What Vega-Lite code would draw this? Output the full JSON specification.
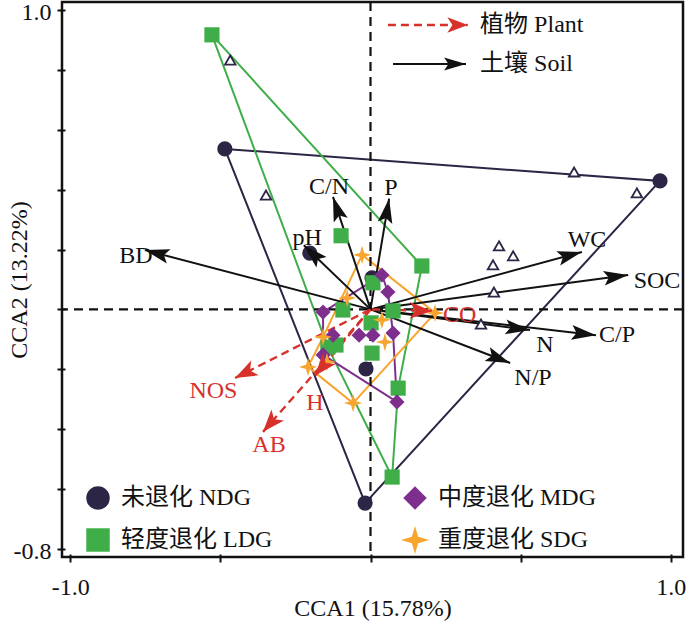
{
"$schema":"https://vega.github.io/schema/vega-lite/v6.json",
"width":621,"height":555,
"autosize":{"type":"none"},
"padding":{"left":62,"top":2,"right":4,"bottom":64},
"background":"white",
"config":{
 "view":{"stroke":"#111111","strokeWidth":2.5},
 "font":"Liberation Serif",
 "axis":{"grid":false,"domain":false,"ticks":true,"tickColor":"#111111","tickWidth":2,"tickSize":8,"offset":-3,"labelFont":"Liberation Serif","labelFontSize":24,"labelColor":"#111111","titleFont":"Liberation Serif","titleFontSize":24,"titleFontWeight":"normal","titleColor":"#111111","labelOverlap":false,"labelFlush":false}
},
"datasets":{
 "hulls":[
  {"g":"NDG","o":0,"x":-0.485,"y":0.536},{"g":"NDG","o":1,"x":0.964,"y":0.429},{"g":"NDG","o":2,"x":-0.018,"y":-0.647},{"g":"NDG","o":3,"x":-0.485,"y":0.536},
  {"g":"LDG","o":0,"x":-0.528,"y":0.917},{"g":"LDG","o":1,"x":0.171,"y":0.145},{"g":"LDG","o":2,"x":0.092,"y":-0.263},{"g":"LDG","o":3,"x":0.072,"y":-0.56},{"g":"LDG","o":4,"x":-0.142,"y":-0.126},{"g":"LDG","o":5,"x":-0.528,"y":0.917},
  {"g":"MDG","o":0,"x":-0.158,"y":-0.009},{"g":"MDG","o":1,"x":0.038,"y":0.115},{"g":"MDG","o":2,"x":0.058,"y":0.058},{"g":"MDG","o":3,"x":0.075,"y":-0.079},{"g":"MDG","o":4,"x":0.088,"y":-0.309},{"g":"MDG","o":5,"x":-0.158,"y":-0.152},{"g":"MDG","o":6,"x":-0.158,"y":-0.009},
  {"g":"SDG","o":0,"x":-0.028,"y":0.182},{"g":"SDG","o":1,"x":0.215,"y":-0.012},{"g":"SDG","o":2,"x":-0.058,"y":-0.313},{"g":"SDG","o":3,"x":-0.208,"y":-0.192},{"g":"SDG","o":4,"x":-0.158,"y":-0.092},{"g":"SDG","o":5,"x":-0.028,"y":0.182}
 ],
 "groups":[
  {"g":"未退化 NDG","x":-0.485,"y":0.536},{"g":"未退化 NDG","x":0.964,"y":0.429},{"g":"未退化 NDG","x":-0.018,"y":-0.647},{"g":"未退化 NDG","x":-0.202,"y":0.188},{"g":"未退化 NDG","x":0.005,"y":0.105},{"g":"未退化 NDG","x":-0.015,"y":-0.199},
  {"g":"轻度退化 LDG","x":-0.528,"y":0.917},{"g":"轻度退化 LDG","x":-0.098,"y":0.246},{"g":"轻度退化 LDG","x":0.171,"y":0.145},{"g":"轻度退化 LDG","x":0.008,"y":0.089},{"g":"轻度退化 LDG","x":-0.092,"y":-0.002},{"g":"轻度退化 LDG","x":0.075,"y":-0.005},{"g":"轻度退化 LDG","x":0.002,"y":-0.045},{"g":"轻度退化 LDG","x":-0.115,"y":-0.119},{"g":"轻度退化 LDG","x":-0.142,"y":-0.126},{"g":"轻度退化 LDG","x":0.005,"y":-0.146},{"g":"轻度退化 LDG","x":0.092,"y":-0.263},{"g":"轻度退化 LDG","x":0.072,"y":-0.56},
  {"g":"中度退化 MDG","x":0.038,"y":0.115},{"g":"中度退化 MDG","x":0.058,"y":0.058},{"g":"中度退化 MDG","x":-0.158,"y":-0.009},{"g":"中度退化 MDG","x":-0.125,"y":-0.086},{"g":"中度退化 MDG","x":-0.038,"y":-0.086},{"g":"中度退化 MDG","x":0.008,"y":-0.086},{"g":"中度退化 MDG","x":0.075,"y":-0.079},{"g":"中度退化 MDG","x":-0.158,"y":-0.152},{"g":"中度退化 MDG","x":0.088,"y":-0.309},
  {"g":"重度退化 SDG","x":-0.028,"y":0.182},{"g":"重度退化 SDG","x":-0.078,"y":0.038},{"g":"重度退化 SDG","x":-0.158,"y":-0.092},{"g":"重度退化 SDG","x":0.038,"y":-0.035},{"g":"重度退化 SDG","x":0.215,"y":-0.012},{"g":"重度退化 SDG","x":0.048,"y":-0.109},{"g":"重度退化 SDG","x":-0.145,"y":-0.176},{"g":"重度退化 SDG","x":-0.208,"y":-0.192},{"g":"重度退化 SDG","x":-0.058,"y":-0.313}
 ],
 "soil":[
  {"v":"BD","x":-0.751,"y":0.198,"lx":-0.781,"ly":0.178},
  {"v":"pH","x":-0.222,"y":0.214,"lx":-0.211,"ly":0.240},
  {"v":"C/N","x":-0.125,"y":0.376,"lx":-0.138,"ly":0.409},
  {"v":"P","x":0.062,"y":0.37,"lx":0.068,"ly":0.406},
  {"v":"WC","x":0.704,"y":0.192,"lx":0.721,"ly":0.232},
  {"v":"SOC","x":0.858,"y":0.115,"lx":0.954,"ly":0.095},
  {"v":"C/P","x":0.751,"y":-0.086,"lx":0.821,"ly":-0.086},
  {"v":"N","x":0.531,"y":-0.069,"lx":0.581,"ly":-0.119},
  {"v":"N/P","x":0.465,"y":-0.179,"lx":0.541,"ly":-0.229}
 ],
 "plant":[
  {"v":"CO","x":0.205,"y":-0.005,"lx":0.297,"ly":-0.019},
  {"v":"NOS","x":-0.451,"y":-0.229,"lx":-0.523,"ly":-0.273},
  {"v":"H","x":-0.185,"y":-0.222,"lx":-0.185,"ly":-0.313},
  {"v":"AB","x":-0.358,"y":-0.409,"lx":-0.338,"ly":-0.453}
 ],
 "species":[
  {"x":-0.467,"y":0.833},{"x":-0.348,"y":0.382},{"x":0.678,"y":0.459},{"x":0.887,"y":0.389},{"x":0.428,"y":0.212},{"x":0.475,"y":0.179},{"x":0.408,"y":0.149},{"x":0.411,"y":0.058},{"x":0.368,"y":-0.049}
 ],
 "keys":[
  {"k":"Plant","label":"植物 Plant","x1":0.058,"x":0.324,"y":0.95,"lx":0.365},
  {"k":"Soil","label":"土壤 Soil","x1":0.075,"x":0.318,"y":0.8196,"lx":0.365}
 ]
},
"layer":[
 {
  "data":{"name":"hulls"},
  "mark":{"type":"line","strokeWidth":2},
  "encoding":{
   "x":{"field":"x","type":"quantitative","scale":{"domain":[-1.0273,1.0406],"nice":false,"zero":false},
        "axis":{"title":"CCA1 (15.78%)","values":[-1,-0.5,0,0.5,1],"labelExpr":"datum.value <= -0.99 ? '-1.0' : datum.value >= 0.99 ? '1.0' : ''","labelPadding":13,"titleY":61,"titleBaseline":"alphabetic"}},
   "y":{"field":"y","type":"quantitative","scale":{"domain":[-0.827,1.0267],"nice":false,"zero":false},
        "axis":{"title":"CCA2 (13.22%)","values":[-0.8,-0.6,-0.4,-0.2,0,0.2,0.4,0.6,0.8,1],"labelExpr":"datum.value >= 0.99 ? '1.0' : datum.value <= -0.79 ? '-0.8' : ''","labelPadding":6,"labelOffset":3,"titleX":-39,"titleBaseline":"alphabetic"}},
   "order":{"field":"o","type":"quantitative"},
   "stroke":{"field":"g","type":"nominal","scale":{"domain":["NDG","LDG","MDG","SDG"],"range":["#2d2545","#3fae49","#7e2f8e","#f7a52f"]},"legend":null}
  }
 },
 {
  "data":{"values":[{}]},
  "mark":{"type":"rule","strokeDash":[9,6],"strokeWidth":2.2,"color":"#111111"},
  "encoding":{"x":{"datum":0,"type":"quantitative"}}
 },
 {
  "data":{"values":[{}]},
  "mark":{"type":"rule","strokeDash":[9,6],"strokeWidth":2.2,"color":"#111111"},
  "encoding":{"y":{"datum":0,"type":"quantitative"}}
 },
 {
  "data":{"name":"soil"},
  "mark":{"type":"rule","strokeWidth":2,"color":"#111111"},
  "encoding":{"x":{"field":"x","type":"quantitative"},"y":{"field":"y","type":"quantitative"},"x2":{"datum":0},"y2":{"datum":0}}
 },
 {
  "data":{"name":"plant"},
  "mark":{"type":"rule","strokeWidth":2.4,"color":"#d7312c","strokeDash":[8,5]},
  "encoding":{"x":{"field":"x","type":"quantitative"},"y":{"field":"y","type":"quantitative"},"x2":{"datum":0},"y2":{"datum":0}}
 },
 {
  "data":{"name":"species"},
  "mark":{"type":"point","shape":"triangle-up","size":110,"filled":false,"fill":"white","stroke":"#2d2545","strokeWidth":1.8,"opacity":1},
  "encoding":{"x":{"field":"x","type":"quantitative"},"y":{"field":"y","type":"quantitative"}}
 },
 {
  "data":{"name":"groups"},
  "mark":{"type":"point","filled":true,"opacity":1,"size":230,"strokeWidth":0},
  "encoding":{
   "x":{"field":"x","type":"quantitative"},"y":{"field":"y","type":"quantitative"},
   "color":{"field":"g","type":"nominal","scale":{"domain":["未退化 NDG","轻度退化 LDG","中度退化 MDG","重度退化 SDG"],"range":["#2d2545","#3fae49","#7e2f8e","#f7a52f"]},
     "legend":{"title":null,"orient":"none","legendX":24,"legendY":484,"columns":2,"columnPadding":127,"rowPadding":15,"padding":0,"labelFont":"'Liberation Serif', 'Noto Sans CJK SC'","labelFontSize":24,"labelColor":"#111111","labelLimit":400,"labelOffset":11,"symbolSize":550,"symbolStrokeWidth":0,"symbolOpacity":1}},
   "shape":{"field":"g","type":"nominal","scale":{"domain":["未退化 NDG","轻度退化 LDG","中度退化 MDG","重度退化 SDG"],"range":["circle","square","diamond","M0,-1.2L0.27,-0.27L1.2,0L0.27,0.27L0,1.2L-0.27,0.27L-1.2,0L-0.27,-0.27Z"]},
     "legend":{"title":null,"orient":"none","legendX":24,"legendY":484,"columns":2,"columnPadding":127,"rowPadding":15,"padding":0,"labelFont":"'Liberation Serif', 'Noto Sans CJK SC'","labelFontSize":24,"labelColor":"#111111","labelLimit":400,"labelOffset":11,"symbolSize":550,"symbolStrokeWidth":0,"symbolOpacity":1}}
  }
 },
 {
  "data":{"name":"soil"},
  "transform":[{"calculate":"atan2(-datum.y*299.4, datum.x*300.3)*180/PI","as":"ang"}],
  "mark":{"type":"point","filled":true,"opacity":1,"color":"#111111","size":600,"shape":"M0,0L-2,-0.6L-1.6,0L-2,0.6Z","strokeWidth":0},
  "encoding":{"x":{"field":"x","type":"quantitative"},"y":{"field":"y","type":"quantitative"},"angle":{"field":"ang","type":"quantitative","scale":null}}
 },
 {
  "data":{"name":"plant"},
  "transform":[{"calculate":"atan2(-datum.y*299.4, datum.x*300.3)*180/PI","as":"ang"}],
  "mark":{"type":"point","filled":true,"opacity":1,"color":"#d7312c","size":500,"shape":"M0,0L-2,-0.75L-1.5,0L-2,0.75Z","strokeWidth":0},
  "encoding":{"x":{"field":"x","type":"quantitative"},"y":{"field":"y","type":"quantitative"},"angle":{"field":"ang","type":"quantitative","scale":null}}
 },
 {
  "data":{"name":"soil"},
  "mark":{"type":"text","font":"Liberation Serif","fontSize":24,"color":"#111111","align":"center","baseline":"middle"},
  "encoding":{"x":{"field":"lx","type":"quantitative"},"y":{"field":"ly","type":"quantitative"},"text":{"field":"v"}}
 },
 {
  "data":{"name":"plant"},
  "mark":{"type":"text","font":"Liberation Serif","fontSize":24,"color":"#d7312c","align":"center","baseline":"middle"},
  "encoding":{"x":{"field":"lx","type":"quantitative"},"y":{"field":"ly","type":"quantitative"},"text":{"field":"v"}}
 },
 {
  "data":{"name":"keys"},
  "transform":[{"filter":"datum.k == 'Plant'"}],
  "mark":{"type":"rule","strokeWidth":2.4,"color":"#d7312c","strokeDash":[8,5]},
  "encoding":{"x":{"field":"x1","type":"quantitative"},"x2":{"field":"x"},"y":{"field":"y","type":"quantitative"}}
 },
 {
  "data":{"name":"keys"},
  "transform":[{"filter":"datum.k == 'Soil'"}],
  "mark":{"type":"rule","strokeWidth":2,"color":"#111111"},
  "encoding":{"x":{"field":"x1","type":"quantitative"},"x2":{"field":"x"},"y":{"field":"y","type":"quantitative"}}
 },
 {
  "data":{"name":"keys"},
  "transform":[{"filter":"datum.k == 'Plant'"}],
  "mark":{"type":"point","filled":true,"opacity":1,"color":"#d7312c","size":420,"shape":"M0,0L-2,-0.75L-1.5,0L-2,0.75Z","strokeWidth":0},
  "encoding":{"x":{"field":"x","type":"quantitative"},"y":{"field":"y","type":"quantitative"}}
 },
 {
  "data":{"name":"keys"},
  "transform":[{"filter":"datum.k == 'Soil'"}],
  "mark":{"type":"point","filled":true,"opacity":1,"color":"#111111","size":480,"shape":"M0,0L-2,-0.6L-1.6,0L-2,0.6Z","strokeWidth":0},
  "encoding":{"x":{"field":"x","type":"quantitative"},"y":{"field":"y","type":"quantitative"}}
 },
 {
  "data":{"name":"keys"},
  "mark":{"type":"text","font":"'Liberation Serif', 'Noto Sans CJK SC'","fontSize":24,"color":"#111111","align":"left","baseline":"middle"},
  "encoding":{"x":{"field":"lx","type":"quantitative"},"y":{"field":"y","type":"quantitative"},"text":{"field":"label"}}
 }
]
}
